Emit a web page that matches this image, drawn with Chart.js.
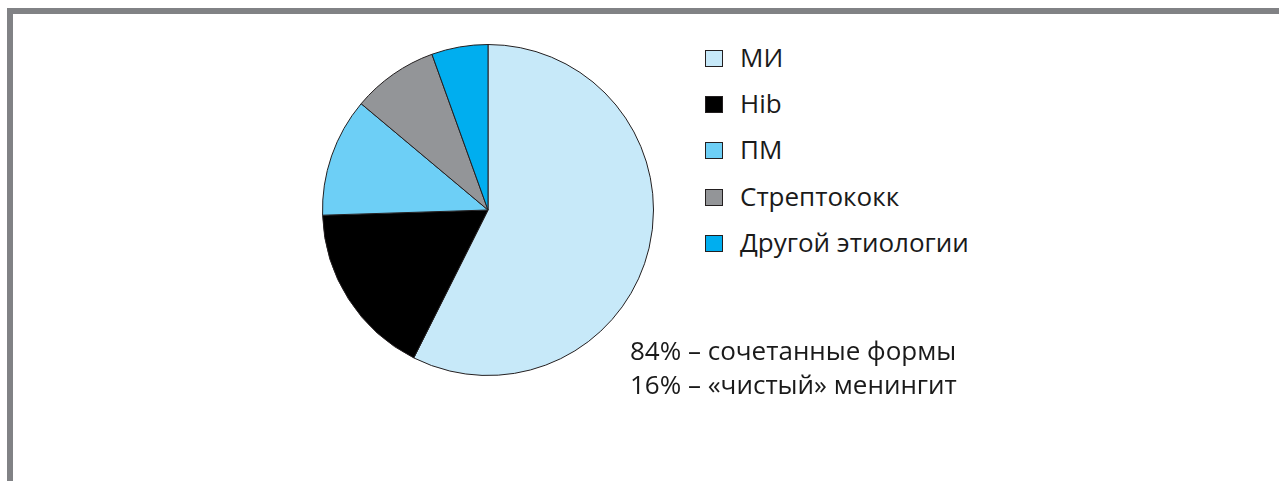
<!DOCTYPE html>
<html>
<head>
<meta charset="utf-8">
<script src="https://cdn.jsdelivr.net/npm/chart.js@4.4.0/dist/chart.umd.min.js"></script>
<style>
  body { margin: 0; background: #fff; width: 1279px; height: 481px; overflow: hidden; position: relative; font-family: "Open Sans", sans-serif; }
  .frame { position: absolute; left: 7px; top: 8px; right: 0; bottom: 0; border-top: 6px solid #818285; border-left: 6px solid #818285; }
  .chart-container { position: absolute; left: 318px; top: 40px; width: 340px; height: 340px; }
  #legend { position: absolute; left: 705px; top: 34px; margin: 0; padding: 0; list-style: none; }
  #legend li { position: relative; height: 46.2px; line-height: 46.2px; font-size: 26px; padding-left: 35px; color: #1a1a1a; white-space: nowrap; }
  #legend span.box { position: absolute; left: 0; top: 16px; width: 16px; height: 15px; border: 1px solid #231f20; }
  .note { position: absolute; left: 630px; top: 333px; font-size: 26px; line-height: 34px; color: #1a1a1a; white-space: nowrap; }
</style>
</head>
<body>
<div class="frame"></div>
<div class="chart-container"><canvas id="myChart"></canvas></div>
<ul id="legend"></ul>
<div class="note">84% – сочетанные формы<br>16% – «чистый» менингит</div>
<script>
  // подписи и доли (%), по часовой стрелке от 12 часов
  var labels = ['МИ', 'Hib', 'ПМ', 'Стрептококк', 'Другой этиологии'];
  var values = [57.4, 17.1, 11.6, 8.4, 5.5];
  var colors = ['#c7e9f9', '#000000', '#6dcff6', '#939598', '#00aeef'];

  document.addEventListener('DOMContentLoaded', function () {
    var ctx = document.getElementById('myChart').getContext('2d');
    var myChart = new Chart(ctx, {
      type: 'pie',
      data: {
        labels: labels,
        datasets: [{
          data: values,
          backgroundColor: colors,
          borderColor: '#231f20',
          borderWidth: 1,
          hoverOffset: 0
        }]
      },
      options: {
        responsive: true,
        maintainAspectRatio: false,
        animation: false,
        layout: { padding: 4 },
        plugins: {
          legend: { display: false },
          tooltip: { enabled: false }
        }
      }
    });

    // легенда справа
    var ul = document.getElementById('legend');
    labels.forEach(function (name, i) {
      var li = document.createElement('li');
      li.innerHTML = '<span class="box" style="background:' + colors[i] + '"></span>' + name;
      ul.appendChild(li);
    });
  });
</script>
</body>
</html>
